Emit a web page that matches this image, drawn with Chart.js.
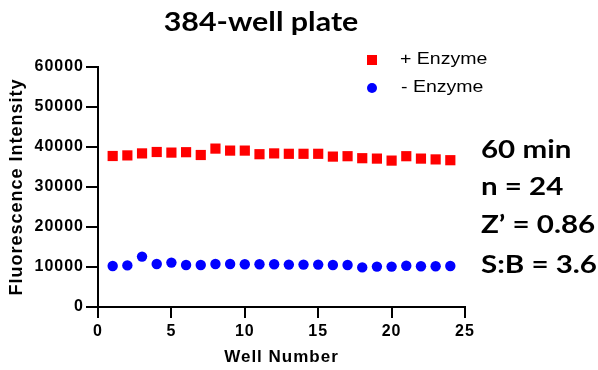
<!DOCTYPE html>
<html>
<head>
<meta charset="utf-8">
<script src="https://cdn.jsdelivr.net/npm/chart.js@4/dist/chart.umd.min.js"></script>
<style>
  html, body { margin: 0; padding: 0; background: #fff; }
  #wrap { position: relative; width: 598px; height: 370px; }
  canvas { position: absolute; left: 0; top: 0; }
</style>
</head>
<body>
<div id="wrap"><canvas id="c" width="598" height="370"></canvas></div>
<script>
// Well numbers 1..24
const wells = [1,2,3,4,5,6,7,8,9,10,11,12,13,14,15,16,17,18,19,20,21,22,23,24];
// Fluorescence with enzyme (signal)
const plusEnzyme = [37750,37900,38400,38750,38600,38700,38000,39600,39100,39100,38200,38400,
                    38300,38300,38300,37600,37700,37200,37100,36600,37700,37100,36900,36700];
// Fluorescence without enzyme (background)
const minusEnzyme = [10250,10400,12600,10750,11100,10500,10500,10750,10750,10700,10700,10700,
                     10600,10600,10600,10500,10500,9900,10100,10100,10300,10200,10200,10250];
const seriesNames = ['+ Enzyme', '- Enzyme'];
const chartTitle = '384-well plate';
const xTitle = 'Well Number';
const yTitle = 'Fluorescence Intensity';
const statLines = ['60 min', 'n = 24', 'Z\u2019 = 0.86', 'S:B = 3.6'];

const toPoints = (xs, ys) => xs.map((x, i) => ({ x: x, y: ys[i] }));

const AXIS_FONT = "'Liberation Sans', Arial, sans-serif";
const CAL_FONT = "Lato, 'Open Sans', sans-serif";

// draw a line of text stretched horizontally by sx around its anchor
function wideText(ctx, text, x, y, sx, align) {
  ctx.save();
  ctx.translate(x, y);
  ctx.scale(sx, 1);
  ctx.textAlign = align;
  ctx.fillText(text, 0, 0);
  ctx.restore();
}

// axis text gets a little tracking
const tracking = {
  id: 'tracking',
  beforeLayout(chart) { chart.ctx.letterSpacing = '1px'; },
  beforeDraw(chart) { chart.ctx.letterSpacing = '1px'; }
};

// Title, legend and statistics block
const decor = {
  id: 'decor',
  afterDraw(chart) {
    const ctx = chart.ctx;
    ctx.save();
    ctx.letterSpacing = '0px';
    ctx.fillStyle = '#000';
    ctx.textBaseline = 'middle';

    ctx.font = "bold 26px " + CAL_FONT;
    wideText(ctx, chartTitle, 261, 23, 1.17, 'center');

    // legend
    const ds = chart.data.datasets;
    const rows = [{ y: 60, tx: 400 }, { y: 88, tx: 401 }];
    const mx = 372;
    rows.forEach((r, i) => {
      ctx.fillStyle = ds[i].backgroundColor;
      ctx.beginPath();
      if (ds[i].pointStyle === 'rect') {
        ctx.fillRect(mx - 5, r.y - 5, 10, 10);
      } else {
        ctx.arc(mx, r.y, 5, 0, Math.PI * 2);
        ctx.fill();
      }
      ctx.fillStyle = '#000';
      ctx.font = "16px " + AXIS_FONT;
      wideText(ctx, seriesNames[i], r.tx, r.y, 1.22, 'left');
    });

    ctx.font = "bold 24px " + CAL_FONT;
    const ys = [150, 187, 225, 265];
    statLines.forEach((t, i) => wideText(ctx, t, 481, ys[i], 1.23, 'left'));
    ctx.restore();
  }
};

new Chart(document.getElementById('c'), {
  type: 'scatter',
  data: {
    datasets: [
      {
        label: seriesNames[0],
        data: toPoints(wells, plusEnzyme),
        pointStyle: 'rect',
        pointRadius: 7.2,
        pointHoverRadius: 7.2,
        backgroundColor: '#ff0000',
        borderColor: '#ff0000',
        borderWidth: 0
      },
      {
        label: seriesNames[1],
        data: toPoints(wells, minusEnzyme),
        pointStyle: 'circle',
        pointRadius: 5.2,
        pointHoverRadius: 5.2,
        backgroundColor: '#0000ff',
        borderColor: '#0000ff',
        borderWidth: 0
      }
    ]
  },
  options: {
    responsive: false,
    animation: false,
    devicePixelRatio: 1,
    layout: { padding: { left: 0, right: 133, top: 67, bottom: 0 } },
    plugins: {
      legend: { display: false },
      title: { display: false },
      tooltip: { enabled: false }
    },
    clip: false,
    scales: {
      x: {
        type: 'linear',
        min: 0, max: 25,
        afterFit(s) { s.height = 63; },
        border: { display: true, color: '#000', width: 2 },
        grid: { drawOnChartArea: false, drawTicks: true, tickLength: 11, color: '#000', lineWidth: 2 },
        ticks: { stepSize: 5, color: '#000', padding: 4, maxRotation: 0,
                 callback: v => String(v),
                 font: { family: AXIS_FONT, size: 16, weight: 'bold' } },
        title: { display: true, text: xTitle, color: '#000', padding: { top: 4, bottom: 2 },
                 font: { family: AXIS_FONT, size: 17, weight: 'bold' } }
      },
      y: {
        type: 'linear',
        min: 0, max: 60000,
        afterFit(s) { s.width = 98; },
        border: { display: true, color: '#000', width: 2 },
        grid: { drawOnChartArea: false, drawTicks: true, tickLength: 12, color: '#000', lineWidth: 2 },
        ticks: { stepSize: 10000, color: '#000', padding: 2,
                 callback: v => String(v),
                 font: { family: AXIS_FONT, size: 16, weight: 'bold' } },
        title: { display: true, text: yTitle, color: '#000', padding: { top: 6, bottom: 2 },
                 font: { family: AXIS_FONT, size: 18, weight: 'bold' } }
      }
    }
  },
  plugins: [tracking, decor]
});
</script>
</body>
</html>
